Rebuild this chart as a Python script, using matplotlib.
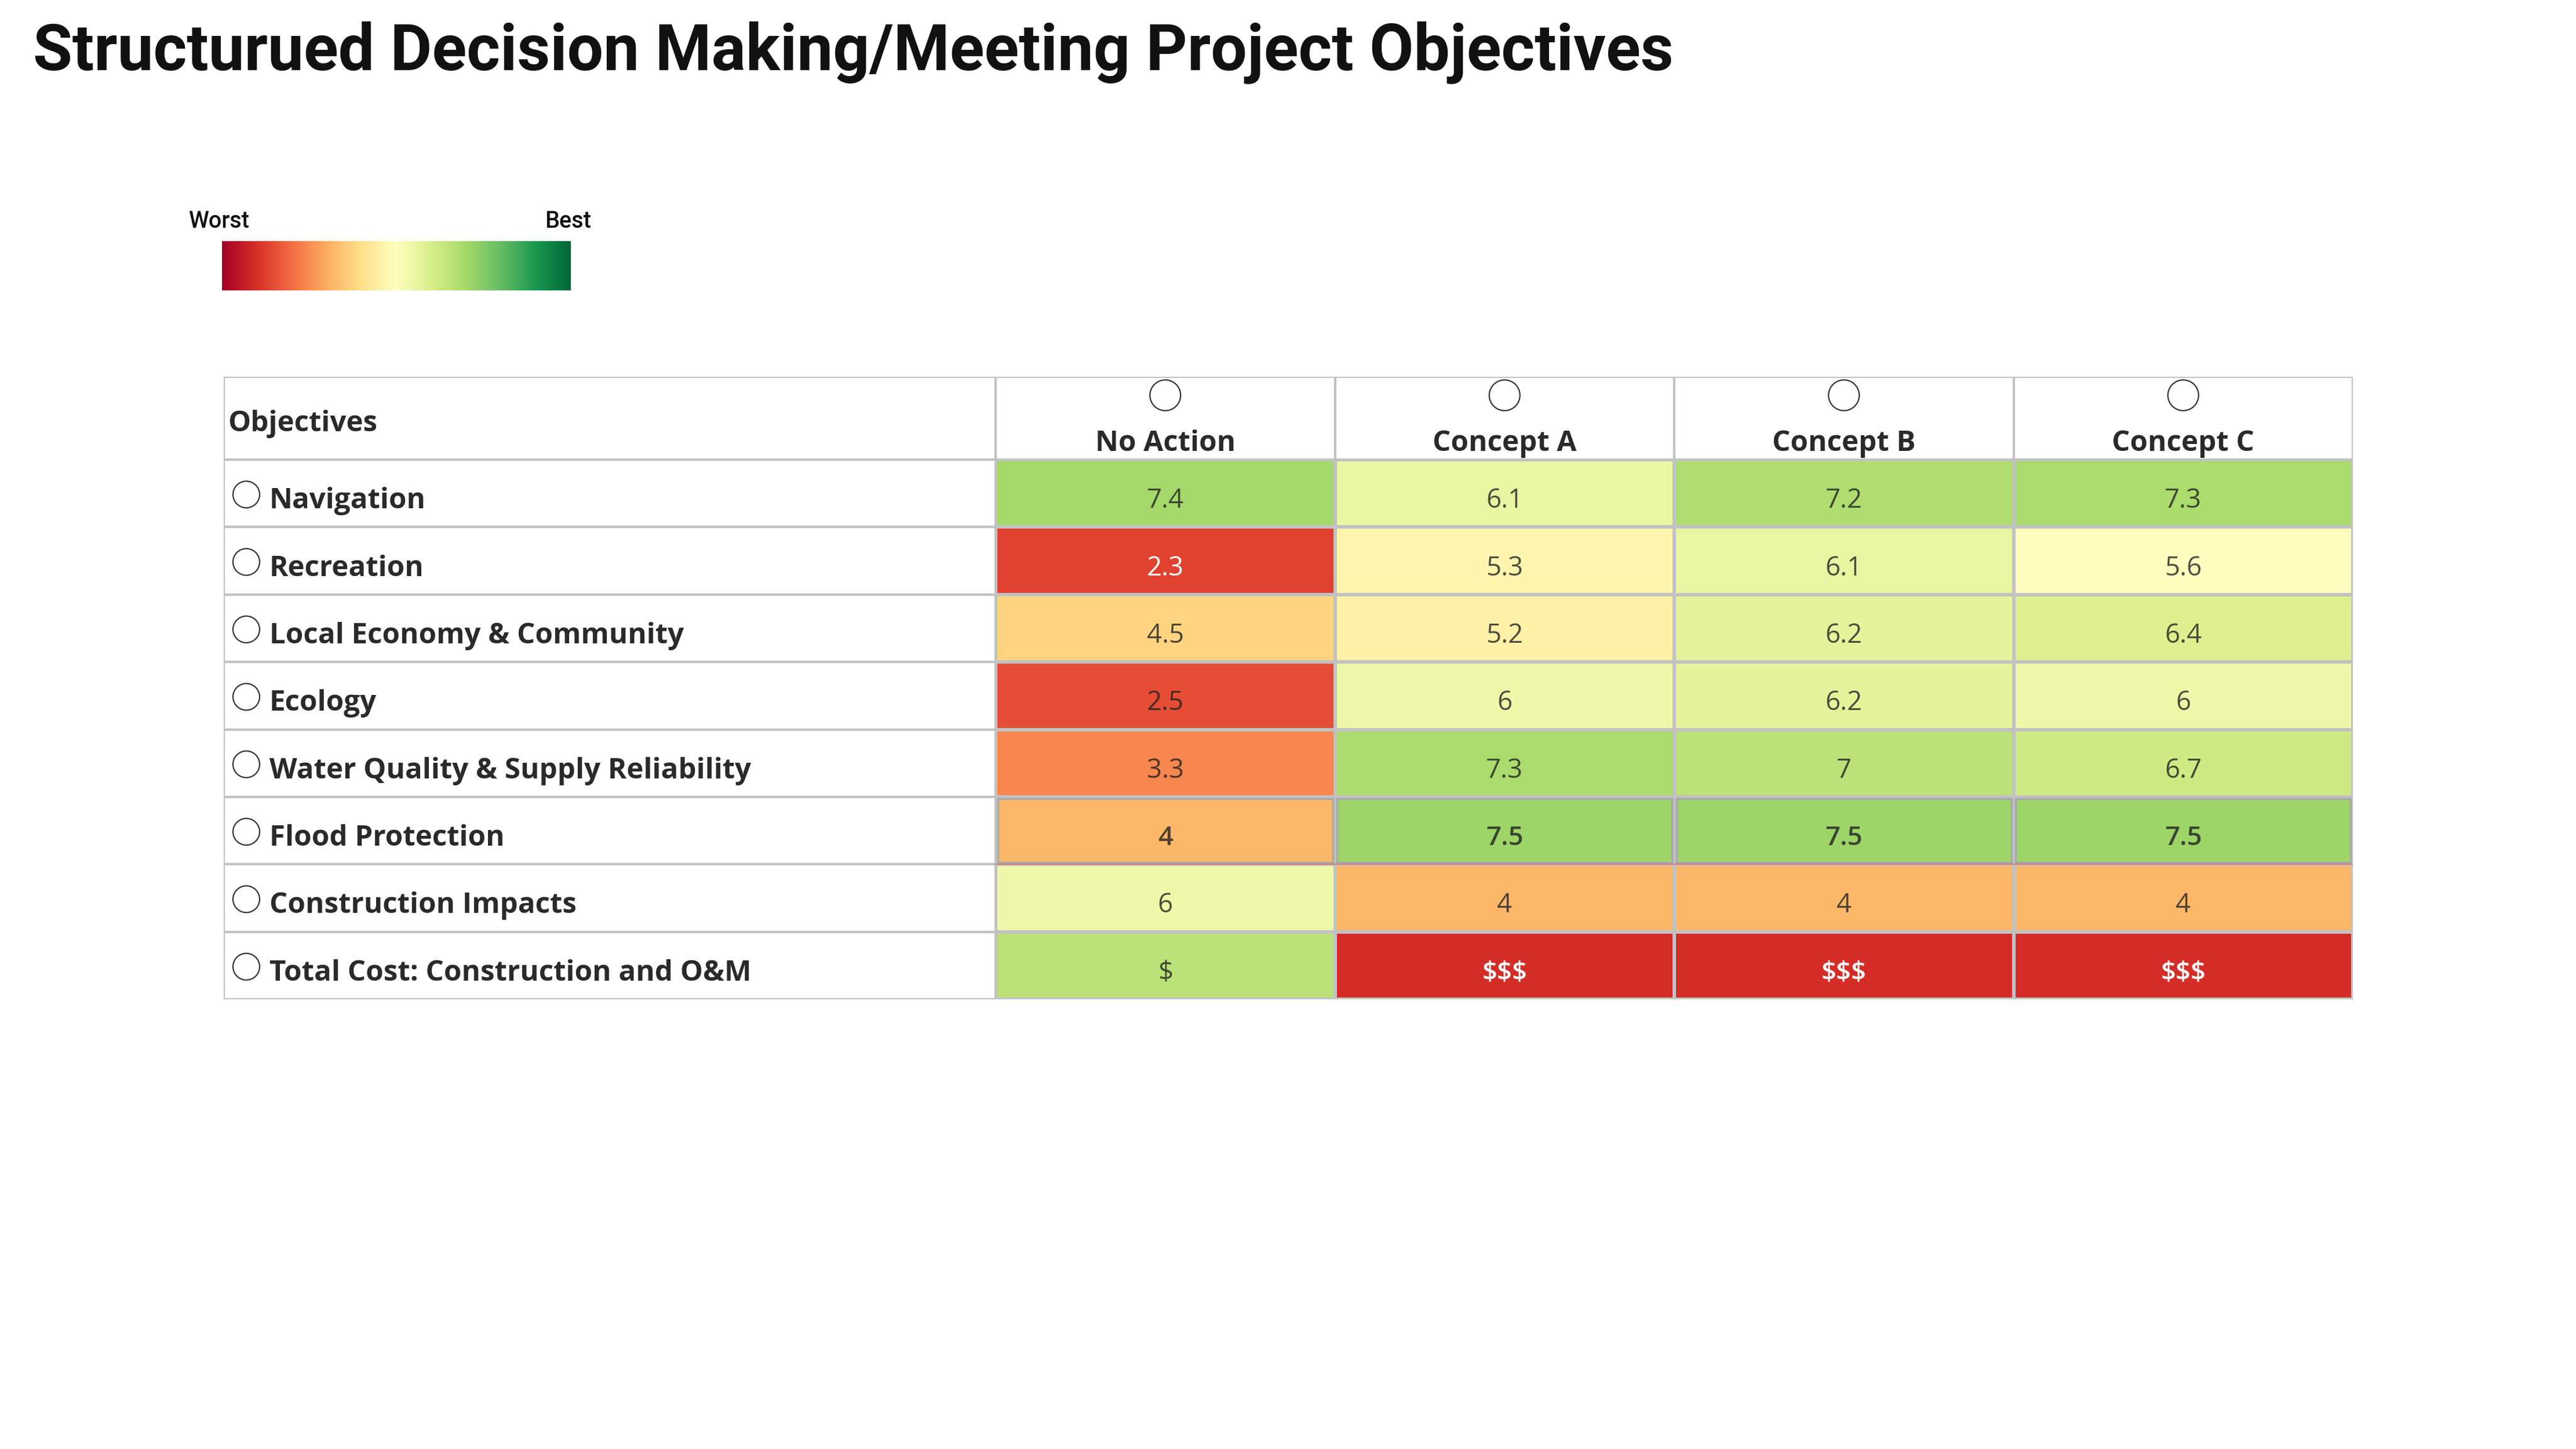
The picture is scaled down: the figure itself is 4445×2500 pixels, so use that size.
import numpy as np
import matplotlib
matplotlib.use("Agg")
import matplotlib.pyplot as plt
from matplotlib.patches import Rectangle
from matplotlib.colors import Normalize

# ---------------- data ----------------
title = "Structurued Decision Making/Meeting Project Objectives"
objectives = ["Navigation", "Recreation", "Local Economy & Community", "Ecology",
              "Water Quality & Supply Reliability", "Flood Protection",
              "Construction Impacts", "Total Cost: Construction and O&M"]
alternatives = ["No Action", "Concept A", "Concept B", "Concept C"]
scores = [
    [7.4, 6.1, 7.2, 7.3],
    [2.3, 5.3, 6.1, 5.6],
    [4.5, 5.2, 6.2, 6.4],
    [2.5, 6.0, 6.2, 6.0],
    [3.3, 7.3, 7.0, 6.7],
    [4.0, 7.5, 7.5, 7.5],
    [6.0, 4.0, 4.0, 4.0],
    [7.0, 2.0, 2.0, 2.0],   # colour score used for the cost row
]
cost_labels = ["$", "$$$", "$$$", "$$$"]
legend_low, legend_high = "Worst", "Best"

# ---------------- figure ----------------
W, H, DPI = 4445, 2500, 100
fig = plt.figure(figsize=(W / DPI, H / DPI), dpi=DPI)
renderer = fig.canvas.get_renderer()

def fit(text, target_px, **kw):
    t = fig.text(0, 0, text, fontsize=100, **kw)
    w = t.get_window_extent(renderer).width
    t.remove()
    return 100.0 * target_px / w

TITLE_FONT = dict(family=["Roboto", "DejaVu Sans"], weight="bold")
LAB_FONT = dict(family=["Open Sans", "DejaVu Sans"], weight="bold")
VAL_FONT = dict(family=["Open Sans", "DejaVu Sans"], weight="normal")
LEG_FONT = dict(family=["Roboto", "DejaVu Sans"], weight="medium")

fs_title = fit(title, 2832, **TITLE_FONT)
fs_lab = fit("Water Quality & Supply Reliability", 830, **LAB_FONT)
fs_head = fit("No Action", 242, **LAB_FONT)
fs_val = fit("7.4", 64, **VAL_FONT)
fs_leg = fit("Worst", 105, **LEG_FONT)

# title
fig.text(57 / W, 1 - 121 / H, title, fontsize=fs_title, color="#111111",
         ha="left", va="baseline", **TITLE_FONT)

# legend gradient
cmap = plt.get_cmap("RdYlGn")
lax = fig.add_axes([383 / W, 1 - 501 / H, 602 / W, 85 / H])
lax.imshow(np.linspace(0, 1, 512)[None, :], aspect="auto", cmap=cmap)
lax.set_axis_off()
fig.text(325 / W, 1 - 393 / H, legend_low, fontsize=fs_leg, color="#111111",
         ha="left", va="baseline", **LEG_FONT)
fig.text(1020 / W, 1 - 393 / H, legend_high, fontsize=fs_leg, color="#111111",
         ha="right", va="baseline", **LEG_FONT)

# ---------------- table ----------------
left, right, top, bottom = 386, 4060, 650, 1724
unit_x = (right - 1718) / 4.0
unit_y = (bottom - 793) / 8.0
lab_w = (1718 - left) / unit_x
head_h = (793 - top) / unit_y
nrow, ncol = len(objectives), len(alternatives)
xmax = lab_w + ncol
ymax = head_h + nrow

ax = fig.add_axes([left / W, 1 - bottom / H, (right - left) / W, (bottom - top) / H])
ax.set_xlim(0, xmax)
ax.set_ylim(ymax, 0)
ax.set_axis_off()

norm = Normalize(vmin=1.15, vmax=10.05)
grid = "#c2c2c2"
lw = 3.0

# value cells through the colour scale
xe = lab_w + np.arange(ncol + 1)
ye = head_h + np.arange(nrow + 1)
ax.pcolormesh(xe, ye, np.array(scores), cmap=cmap, norm=norm,
              edgecolors=grid, linewidth=lw, zorder=1)

# header / label cells
ax.add_patch(Rectangle((0, 0), lab_w, head_h, facecolor="white", edgecolor=grid, lw=lw, zorder=2))
for j in range(ncol):
    ax.add_patch(Rectangle((lab_w + j, 0), 1, head_h, facecolor="white", edgecolor=grid, lw=lw, zorder=2))
for i in range(nrow):
    ax.add_patch(Rectangle((0, head_h + i), lab_w, 1, facecolor="white", edgecolor=grid, lw=lw, zorder=2))

# flood protection row highlight
fi = objectives.index("Flood Protection")
for j in range(ncol):
    ax.add_patch(Rectangle((lab_w + j + 0.006, head_h + fi + 0.03), 0.988, 0.94,
                           facecolor="none", edgecolor="#a9a9a9", lw=2.5, zorder=3))
ax.plot([lab_w, xmax], [head_h + fi + 1, head_h + fi + 1], color="#e06666", lw=1.2, zorder=4)

txt_col = "#2a2a2a"
# header text
ax.text(7 / unit_x, (744 - top) / unit_y, "Objectives", fontsize=fs_lab, color=txt_col,
        ha="left", va="baseline", **LAB_FONT)
hx = lab_w + np.arange(ncol) + 0.5
ax.scatter(hx, np.full(ncol, (682 - top) / unit_y), s=(53 * 72 / DPI) ** 2,
           facecolors="none", edgecolors="#333333", linewidths=1.6, zorder=5)
for j, name in enumerate(alternatives):
    ax.text(hx[j], (778 - top) / unit_y, name, fontsize=fs_head, color=txt_col,
            ha="center", va="baseline", **LAB_FONT)

# row labels
rc = head_h + np.arange(nrow) + 0.5
ax.scatter(np.full(nrow, (425 - left) / unit_x), rc + 2 / unit_y, s=(46 * 72 / DPI) ** 2,
           facecolors="none", edgecolors="#333333", linewidths=1.6, zorder=5)
for i, name in enumerate(objectives):
    ax.text((465 - left) / unit_x, rc[i] + 26 / unit_y, name, fontsize=fs_lab, color=txt_col,
            ha="left", va="baseline", **LAB_FONT)

# values
for i in range(nrow):
    for j in range(ncol):
        v = scores[i][j]
        if objectives[i].startswith("Total Cost"):
            s = cost_labels[j]
        else:
            s = f"{v:g}"
        white = v < 2.4
        kw = dict(VAL_FONT)
        if i == fi or s == "$$$":
            kw["weight"] = "semibold"
        ax.text(hx[j], rc[i] + 25 / unit_y, s, fontsize=fs_val,
                color="white" if white else "#1e1e1e", alpha=1.0 if white else 0.78,
                ha="center", va="baseline", zorder=6, **kw)

fig.savefig("out.png", dpi=DPI, facecolor="white")
